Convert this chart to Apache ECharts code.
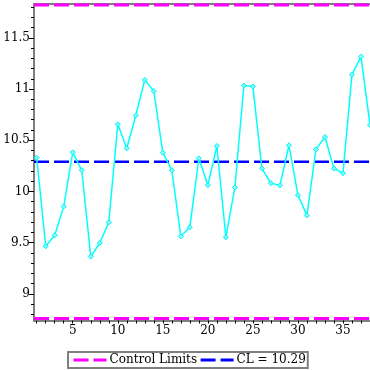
<!DOCTYPE html>
<html><head><meta charset="utf-8">
<script src="https://cdn.jsdelivr.net/npm/echarts@6/dist/echarts.min.js"></script>
<style>html,body{margin:0;padding:0;background:#fff}#c{width:370px;height:370px}</style>
</head><body><div id="c"></div>
<script>
var samples = [1,2,3,4,5,6,7,8,9,10,11,12,13,14,15,16,17,18,19,20,21,22,23,24,25,26,27,28,29,30,31,32,33,34,35,36,37,38];
var values = [10.33,9.465,9.572,9.854,10.382,10.207,9.364,9.497,9.698,10.655,10.421,10.742,11.089,10.979,10.379,10.207,9.562,9.65,10.324,10.061,10.444,9.553,10.039,11.034,11.024,10.224,10.081,10.058,10.45,9.964,9.766,10.411,10.531,10.224,10.178,11.141,11.316,10.648];
var CL = 10.29, UCL = 11.82, LCL = 8.76;
var xTickLabels = [5,10,15,20,25,30,35];
var yTickLabels = [9,9.5,10,10.5,11,11.5];
var xMin = 0.7, xMax = 38, yMin = 8.74, yMax = 11.83;
var xMinor = []; for (var i = 1; i <= 38; i++) xMinor.push(i);
var yMinor = []; for (var j = 88; j <= 118; j++) yMinor.push(j/10);
var font = 'DejaVu Serif';
var data = samples.map(function(s,k){return [s, values[k]];});
var chart = echarts.init(document.getElementById('c'), null, {renderer:'canvas'});
var axisLine = {show:true, lineStyle:{color:'#808080', width:2}};
chart.setOption({
  animation:false,
  grid:{left:34, top:4, right:0, bottom:49.5, containLabel:false},
  xAxis:[
    {type:'value', min:xMin, max:xMax, axisLine:axisLine, splitLine:{show:false},
     axisTick:{show:true, customValues:xMinor, length:3, lineStyle:{color:'#000', width:1}},
     axisLabel:{show:true, customValues:xTickLabels, color:'#000', fontFamily:font, fontSize:12, margin:4}},
    {type:'value', min:xMin, max:xMax, position:'top', axisLine:axisLine, splitLine:{show:false},
     axisTick:{show:false}, axisLabel:{show:false}}
  ],
  yAxis:[
    {type:'value', min:yMin, max:yMax, axisLine:axisLine, splitLine:{show:false},
     axisTick:{show:true, customValues:yMinor, length:3, lineStyle:{color:'#000', width:1}},
     axisLabel:{show:true, customValues:yTickLabels, color:'#000', fontFamily:font, fontSize:12, margin:4}},
    {type:'value', min:yMin, max:yMax, position:'left', axisLine:{show:false}, splitLine:{show:false},
     axisTick:{show:true, customValues:yTickLabels, length:5, lineStyle:{color:'#000', width:1}},
     axisLabel:{show:false}}
  ],
  legend:{
    data:['Control Limits','CL = 10.29'], left:68, bottom:2, orient:'horizontal',
    itemWidth:33, itemHeight:12, itemGap:2, padding:[2,2,2,4],
    borderColor:'#808080', borderWidth:2, backgroundColor:'#fff',
    textStyle:{fontFamily:font, fontSize:12, color:'#000', padding:[0,0,0,-2]},
    itemStyle:{opacity:0},
    lineStyle:{type:[15,5], width:3},
    selectedMode:false
  },
  series:[
    {name:'Control Limits', type:'line', data:[[xMin,UCL],[xMax,UCL]], symbol:'none', silent:true,
     lineStyle:{color:'#ff00ff', width:3, type:[15,5]}, itemStyle:{color:'#ff00ff'}},
    {name:'Control Limits', type:'line', data:[[xMin,LCL],[xMax,LCL]], symbol:'none', silent:true,
     lineStyle:{color:'#ff00ff', width:3, type:[15,5]}, itemStyle:{color:'#ff00ff'}},
    {name:'CL = 10.29', type:'line', data:[[xMin,CL],[xMax,CL]], symbol:'none', silent:true,
     lineStyle:{color:'#0000ff', width:2.5, type:[15,5]}, itemStyle:{color:'#0000ff'}},
    {name:'data', type:'line', data:data, symbol:'diamond', symbolSize:5, silent:true,
     lineStyle:{color:'#00ffff', width:1.5}, itemStyle:{color:'#7fffff', borderColor:'#00f0f0', borderWidth:1}}
  ]
});
</script></body></html>
